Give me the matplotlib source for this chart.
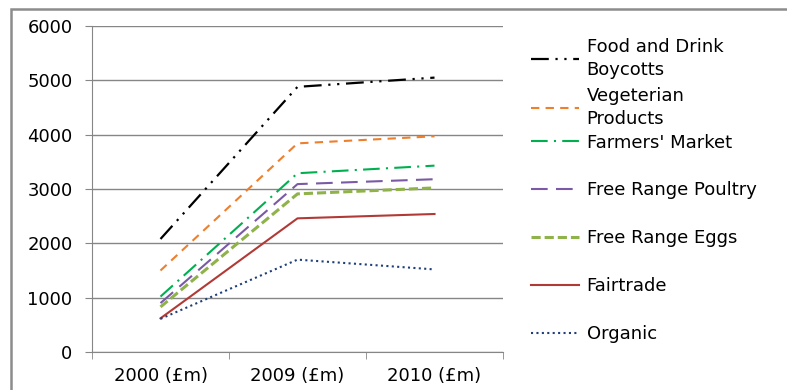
import matplotlib.pyplot as plt
from matplotlib.patches import Rectangle

plt.rcParams['font.family'] = ['DejaVu Sans']

# sales by year (£m)
years = ['2000 (£m)', '2009 (£m)', '2010 (£m)']
food_drink_boycotts = [2080, 4880, 5050]
vegeterian = [1500, 3840, 3970]
farmers_market = [1020, 3290, 3430]
free_range_poultry = [900, 3090, 3180]
free_range_eggs = [830, 2910, 3020]
fairtrade = [620, 2460, 2540]
organic = [610, 1700, 1520]

series = [
    ('Food and Drink\nBoycotts', food_drink_boycotts, '#000000', (0, (8, 3, 1, 3, 1, 3)), 1.6),
    ('Vegeterian\nProducts', vegeterian, '#EE7F2D', (0, (4, 3)), 1.5),
    ("Farmers' Market", farmers_market, '#00B050', (0, (8, 3, 1, 3)), 1.5),
    ('Free Range Poultry', free_range_poultry, '#7A5AA6', (0, (8, 4)), 1.5),
    ('Free Range Eggs', free_range_eggs, '#8FB24A', (0, (3, 1.3)), 2.2),
    ('Fairtrade', fairtrade, '#B23A36', '-', 1.5),
    ('Organic', organic, '#1F3F7A', (0, (1, 1.6)), 1.5),
]

fig = plt.figure(figsize=(7.87, 3.9), dpi=100)
ax = fig.add_axes([92/787, 38/390, 411/787, 326/390])

x = range(len(years))
lines = []
for name, vals, col, ls, lw in series:
    ln, = ax.plot(x, vals, color=col, linestyle=ls, linewidth=lw, label=name)
    lines.append(ln)

ax.set_ylim(0, 6000)
ax.set_yticks(range(0, 6001, 1000))
ax.set_xlim(-0.5, 2.5)
ax.set_xticks(list(x))
ax.set_xticklabels(years)
ax.set_xticks([-0.5, 0.5, 1.5, 2.5], minor=True)
ax.tick_params(axis='x', which='major', length=0, pad=11, labelsize=13)
ax.tick_params(axis='x', which='minor', length=5, color='#868686')
ax.tick_params(axis='y', length=5, color='#868686', pad=9, labelsize=13)
ax.grid(axis='y', color='#868686', linewidth=1)
ax.set_axisbelow(True)
for s in ['top', 'right']:
    ax.spines[s].set_visible(False)
for s in ['left', 'bottom']:
    ax.spines[s].set_color('#868686')

# legend split in two: the wrapped labels sit tighter together
leg_kw = dict(frameon=False, fontsize=13, handlelength=2.67,
              handletextpad=0.4, borderaxespad=0)
leg1 = ax.legend(handles=lines[:2], loc='upper left', bbox_to_anchor=(1.051, 0.985),
                 labelspacing=0.45, **leg_kw)
for t in leg1.get_texts():
    t.set_linespacing(1.35)
ax.add_artist(leg1)
ax.legend(handles=lines[2:], loc='lower left', bbox_to_anchor=(1.051, 0.006),
          labelspacing=1.65, **leg_kw)

# outer chart border
fig.patches.append(Rectangle((11/787, -0.1), 1.2, (390 - 9)/390 + 0.1,
                             transform=fig.transFigure, fill=False,
                             edgecolor='#8C8C8C', linewidth=1.8))

fig.savefig('out.png', dpi=100)
